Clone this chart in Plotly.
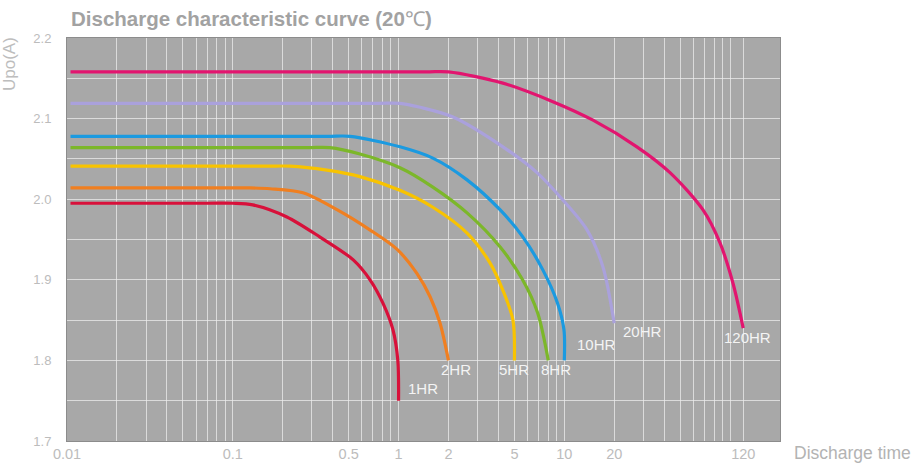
import math
import plotly.graph_objects as go

# Discharge curves: time in hours (log axis) vs. cell voltage
names = ["1HR", "2HR", "5HR", "8HR", "10HR", "20HR", "120HR"]

t_1hr = [0.0105, 0.07, 0.1, 0.132, 0.212, 0.336, 0.531, 0.673, 0.805, 0.925, 0.99, 1.0]
v_1hr = [1.995, 1.995, 1.995, 1.993, 1.978, 1.953, 1.925, 1.900, 1.871, 1.838, 1.800, 1.750]

t_2hr = [0.0105, 0.09, 0.127, 0.168, 0.265, 0.425, 0.671, 0.977, 1.29, 1.55, 1.78, 2.0]
v_2hr = [2.014, 2.014, 2.014, 2.013, 2.008, 1.987, 1.962, 1.938, 1.908, 1.879, 1.846, 1.800]

t_5hr = [0.0105, 0.16, 0.221, 0.370, 0.585, 1.02, 1.61, 2.59, 3.56, 4.26, 4.90, 5.0]
v_5hr = [2.041, 2.041, 2.041, 2.036, 2.028, 2.011, 1.990, 1.958, 1.921, 1.887, 1.850, 1.800]

t_8hr = [0.0105, 0.28, 0.385, 0.585, 1.02, 1.61, 2.59, 4.09, 5.6, 6.9, 8.0]
v_8hr = [2.064, 2.064, 2.064, 2.056, 2.039, 2.015, 1.983, 1.941, 1.900, 1.859, 1.800]

t_10hr = [0.0105, 0.37, 0.51, 1.02, 1.61, 2.59, 4.09, 5.63, 7.43, 9.1, 9.95, 10.0]
v_10hr = [2.078, 2.078, 2.078, 2.065, 2.051, 2.024, 1.987, 1.953, 1.912, 1.871, 1.838, 1.800]

t_20hr = [0.0105, 0.75, 1.02, 1.35, 2.13, 4.26, 6.84, 9.8, 13.7, 17.1, 20.0]
v_20hr = [2.119, 2.119, 2.119, 2.114, 2.102, 2.065, 2.033, 1.999, 1.962, 1.916, 1.846]

t_120hr = [0.0105, 1.45, 2.0, 4.26, 8.53, 14.9, 27.4, 43.4, 68.5, 86.8, 104, 120]
v_120hr = [2.158, 2.158, 2.158, 2.144, 2.121, 2.098, 2.065, 2.033, 1.987, 1.946, 1.896, 1.840]

times = [t_1hr, t_2hr, t_5hr, t_8hr, t_10hr, t_20hr, t_120hr]
volts = [v_1hr, v_2hr, v_5hr, v_8hr, v_10hr, v_20hr, v_120hr]

colors = ["#d8103a", "#f07f20", "#f8c300", "#7cb72a", "#1b9ae0", "#aaa1dc", "#e2156f"]
# pixel offsets of each end label from the curve's last point
label_shift = [(24, 12), (8, -9), (0, -9), (8, -9), (32, 16), (28, -8), (4, -9)]

# axis ticks and grid
x_labels = [0.01, 0.1, 0.5, 1, 2, 5, 10, 20, 120]
x_grid = sorted(set([round(k * 10 ** d, 6) for d in range(-2, 3) for k in range(1, 10)
                     if k * 10 ** d <= 200] + [120]))
y_grid = [round(1.7 + 0.05 * i, 2) for i in range(11)]
y_labels = [1.7, 1.8, 1.9, 2.0, 2.1, 2.2]

FONT = "Liberation Sans, Arial, sans-serif"
GRID = "rgba(236,236,236,0.75)"

fig = go.Figure()
for name, t, v, c in zip(names, times, volts, colors):
    fig.add_trace(go.Scatter(
        x=t, y=v, mode="lines", name=name,
        line=dict(color=c, width=3.2, shape="spline", smoothing=0.85),
        hoverinfo="skip",
    ))

annotations = []
for name, t, v, (dx, dy) in zip(names, times, volts, label_shift):
    annotations.append(dict(
        x=math.log10(t[-1]), y=v[-1], xref="x", yref="y", text=name,
        showarrow=False, xanchor="center", yanchor="middle",
        xshift=dx, yshift=dy,
        font=dict(family=FONT, size=15, color="#f4f4f4"),
    ))

annotations += [
    dict(text="<b>Discharge characteristic curve (20</b>℃<b>)</b>", xref="paper", yref="paper",
         x=0, y=1, xanchor="left", yanchor="middle", xshift=2, yshift=20,
         showarrow=False, font=dict(family=FONT, size=20.5, color="#a2a2a2")),
    dict(text="Upo(A)", xref="paper", yref="paper", x=0, y=1,
         xanchor="center", yanchor="middle", xshift=-58, yshift=-26, textangle=-90,
         showarrow=False, font=dict(family=FONT, size=17, color="#bdbdbd")),
    dict(text="Discharge time", xref="paper", yref="paper", x=1, y=0,
         xanchor="left", yanchor="middle", xshift=12, yshift=-12,
         showarrow=False, font=dict(family=FONT, size=17.5, color="#b3b3b3")),
]

fig.update_layout(
    width=921, height=464,
    margin=dict(l=67, r=141, t=38, b=23, autoexpand=False),
    paper_bgcolor="white",
    plot_bgcolor="#a8a8a8",
    showlegend=False,
    annotations=annotations,
    xaxis=dict(
        type="log", range=[-2, math.log10(200)],
        tickvals=x_grid,
        ticktext=[(f"{g:g}" if g in x_labels else "") for g in x_grid],
        showgrid=True, gridcolor=GRID, gridwidth=1,
        showline=True, linecolor="#8c8c8c", linewidth=1, mirror=True,
        ticks="", automargin=False,
        tickfont=dict(family=FONT, size=14.5, color="#bcbcbc"),
        fixedrange=True,
    ),
    yaxis=dict(
        range=[1.7, 2.2],
        tickvals=y_grid,
        ticktext=[(f"{g:.1f}" if any(abs(g - l) < 1e-9 for l in y_labels) else "") for g in y_grid],
        showgrid=True, gridcolor=GRID, gridwidth=1, zeroline=False,
        showline=True, linecolor="#8c8c8c", linewidth=1, mirror=True,
        ticks="", ticklabelstandoff=12, automargin=False,
        tickfont=dict(family=FONT, size=13, color="#bcbcbc"),
        fixedrange=True,
    ),
)

fig.write_html("out.html", config={"displayModeBar": False})
